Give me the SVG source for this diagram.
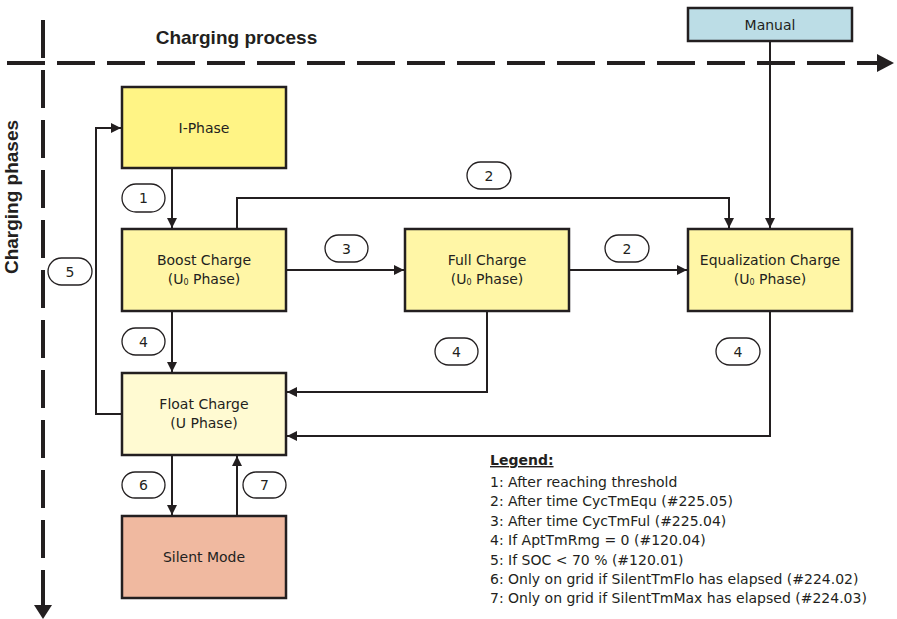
<svg xmlns="http://www.w3.org/2000/svg" width="897" height="619" viewBox="0 0 897 619">
<style>
.box{stroke:#231f20;stroke-width:2.5}
.t{font-family:"DejaVu Sans","Liberation Sans",sans-serif;font-size:14px;fill:#231f20;text-anchor:middle}
.title{font-family:"Liberation Sans",Arial,sans-serif;font-weight:bold;font-size:19px;fill:#231f20;text-anchor:middle}
.leg{font-family:"DejaVu Sans","Liberation Sans",sans-serif;font-size:14px;fill:#231f20}
.con{fill:none;stroke:#231f20;stroke-width:2}
.pill{fill:#fff;stroke:#231f20;stroke-width:1.3}
.axis{stroke:#231f20;stroke-width:4;stroke-dasharray:38 12;fill:none}
</style>
<defs>
<marker id="ah" markerUnits="userSpaceOnUse" markerWidth="10" markerHeight="10" refX="10" refY="5" orient="auto">
<path d="M0,0 L10,5 L0,10 z" fill="#231f20"/>
</marker>
</defs>
<rect width="897" height="619" fill="#fff"/>
<g id="axes">
<line class="axis" x1="7" y1="63" x2="878" y2="63"/>
<polygon points="877,54 894,63 877,72" fill="#231f20"/>
<line class="axis" x1="43" y1="20" x2="43" y2="606"/>
<polygon points="34,605 43,619 52,605" fill="#231f20"/>
<text class="title" x="236.5" y="44">Charging process</text>
<text class="title" transform="translate(18,197) rotate(-90)">Charging phases</text>
</g>
<g id="connectors">
<line class="con" x1="172" y1="168" x2="172" y2="228" marker-end="url(#ah)"/>
<polyline class="con" points="237,229 237,198 729,198 729,228" marker-end="url(#ah)"/>
<line class="con" x1="770" y1="42" x2="770" y2="228" marker-end="url(#ah)"/>
<line class="con" x1="286" y1="270" x2="404" y2="270" marker-end="url(#ah)"/>
<line class="con" x1="569" y1="270" x2="687" y2="270" marker-end="url(#ah)"/>
<line class="con" x1="172" y1="311" x2="172" y2="372" marker-end="url(#ah)"/>
<polyline class="con" points="487,311 487,392 287,392" marker-end="url(#ah)"/>
<polyline class="con" points="770,311 770,436 287,436" marker-end="url(#ah)"/>
<polyline class="con" points="122,414 96,414 96,128 121,128" marker-end="url(#ah)"/>
<line class="con" x1="172" y1="455" x2="172" y2="515" marker-end="url(#ah)"/>
<line class="con" x1="237" y1="516" x2="237" y2="456" marker-end="url(#ah)"/>
<g id="labels">
<rect class="pill" x="122" y="184" width="43" height="28" rx="14"/><text class="t" x="143.5" y="203">1</text>
<rect class="pill" x="467" y="162" width="44" height="27" rx="13.5"/><text class="t" x="489" y="181">2</text>
<rect class="pill" x="325" y="235" width="43" height="27" rx="13.5"/><text class="t" x="346.5" y="254">3</text>
<rect class="pill" x="605" y="235" width="44" height="27" rx="13.5"/><text class="t" x="627" y="254">2</text>
<rect class="pill" x="122" y="328" width="43" height="27" rx="13.5"/><text class="t" x="143.5" y="347">4</text>
<rect class="pill" x="435" y="338" width="43" height="27" rx="13.5"/><text class="t" x="456.5" y="357">4</text>
<rect class="pill" x="716" y="338" width="44" height="27" rx="13.5"/><text class="t" x="738" y="357">4</text>
<rect class="pill" x="48" y="258" width="44" height="27" rx="13.5"/><text class="t" x="70" y="277">5</text>
<rect class="pill" x="122" y="472" width="43" height="26" rx="13"/><text class="t" x="143.5" y="490">6</text>
<rect class="pill" x="243" y="472" width="43" height="26" rx="13"/><text class="t" x="264.5" y="490">7</text>
</g>
</g>
<g id="manual">
<rect class="box" x="688" y="8" width="164" height="33" fill="#bcdde6"/>
<text class="t" x="770" y="30">Manual</text>
</g>
<g id="i-phase">
<rect class="box" x="122" y="87" width="164" height="81" fill="#fff485"/>
<text class="t" x="204" y="133">I-Phase</text>
</g>
<g id="boost">
<rect class="box" x="122" y="229" width="164" height="82" fill="#fff6a6"/>
<text class="t" x="204" y="265">Boost Charge</text>
<text class="t" x="204" y="284">(U<tspan font-size="8" dy="1">0</tspan><tspan dy="-1"> Phase)</tspan></text>
</g>
<g id="full">
<rect class="box" x="405" y="229" width="164" height="82" fill="#fff6a6"/>
<text class="t" x="487" y="265">Full Charge</text>
<text class="t" x="487" y="284">(U<tspan font-size="8" dy="1">0</tspan><tspan dy="-1"> Phase)</tspan></text>
</g>
<g id="equalization">
<rect class="box" x="688" y="229" width="164" height="82" fill="#fff6a6"/>
<text class="t" x="770" y="265">Equalization Charge</text>
<text class="t" x="770" y="284">(U<tspan font-size="8" dy="1">0</tspan><tspan dy="-1"> Phase)</tspan></text>
</g>
<g id="float">
<rect class="box" x="122" y="373" width="164" height="82" fill="#fffad2"/>
<text class="t" x="204" y="409">Float Charge</text>
<text class="t" x="204" y="428">(U Phase)</text>
</g>
<g id="silent">
<rect class="box" x="122" y="516" width="164" height="82" fill="#f0b9a0"/>
<text class="t" x="204" y="562">Silent Mode</text>
</g>
<g id="legend">
<text class="leg" x="490" y="465" font-weight="bold" text-decoration="underline">Legend:</text>
<text class="leg" x="490" y="487">1: After reaching threshold</text>
<text class="leg" x="490" y="506.4">2: After time CycTmEqu (#225.05)</text>
<text class="leg" x="490" y="525.8">3: After time CycTmFul (#225.04)</text>
<text class="leg" x="490" y="545.2">4: If AptTmRmg = 0 (#120.04)</text>
<text class="leg" x="490" y="564.6">5: If SOC &lt; 70 % (#120.01)</text>
<text class="leg" x="490" y="584">6: Only on grid if SilentTmFlo has elapsed (#224.02)</text>
<text class="leg" x="490" y="603.4">7: Only on grid if SilentTmMax has elapsed (#224.03)</text>
</g>
</svg>
